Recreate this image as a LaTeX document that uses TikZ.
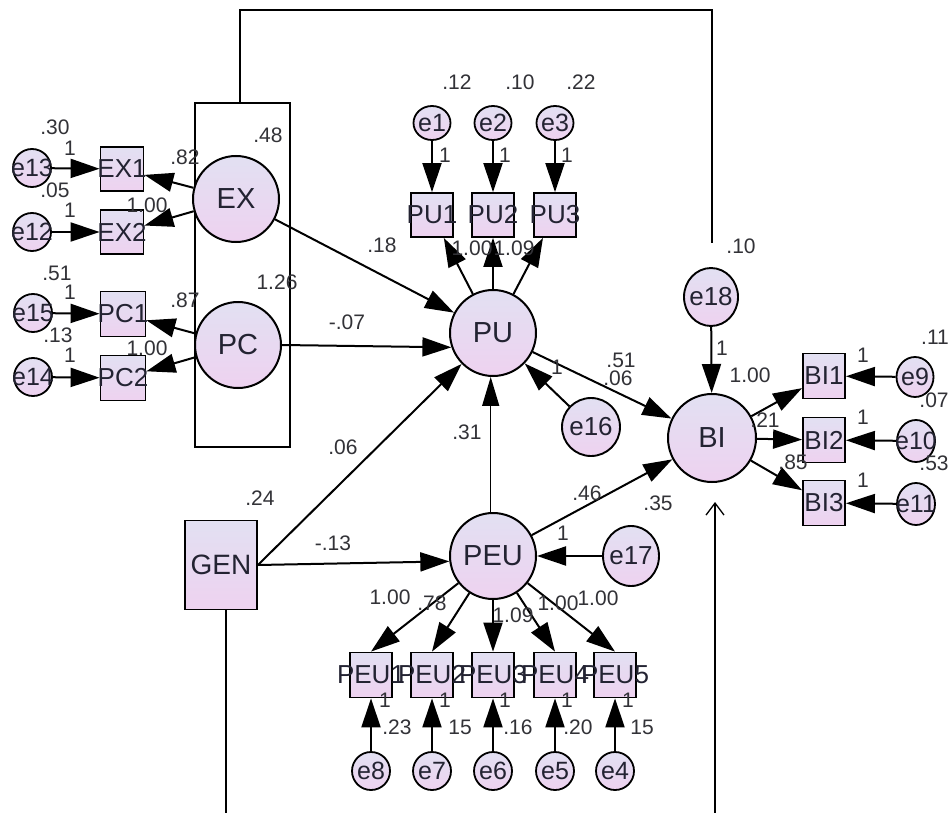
\documentclass[tikz,border=0pt]{standalone}
\usepackage{fontspec}
\setmainfont{Liberation Sans}
\usetikzlibrary{arrows.meta,shapes.geometric}
\definecolor{ncolA}{RGB}{226,224,242}
\definecolor{ncolB}{RGB}{238,210,240}
\definecolor{txt}{RGB}{35,35,50}
\definecolor{lbl}{RGB}{50,50,55}
\newcommand\zw[1]{\makebox[0pt]{#1}}
\tikzset{
  shade/.style={top color=ncolA, bottom color=ncolB, draw=black, text=txt, inner sep=0pt},
  lat/.style={shade, circle, line width=2pt, minimum size=86pt, font=\fontsize{29}{29}\selectfont},
  err/.style={shade, ellipse, line width=1.8pt, minimum width=38pt, minimum height=38pt, font=\fontsize{25}{25}\selectfont},
  errbig/.style={shade, ellipse, line width=1.9pt, minimum width=56pt, minimum height=60pt, font=\fontsize{26}{26}\selectfont},
  obs/.style={shade, rectangle, line width=1.8pt, minimum width=43pt, minimum height=44pt, font=\fontsize{26}{26}\selectfont},
  lab/.style={font=\fontsize{21}{21}\selectfont, text=lbl, inner sep=0pt},
  arr/.style={line width=2pt, -{Triangle[length=29pt,width=19pt]}},
  thinarr/.style={line width=1.3pt, -{Triangle[length=29pt,width=17pt]}},
  plain/.style={line width=1.4pt},
}
\begin{document}
\begin{tikzpicture}[x=1pt,y=-1pt]
\useasboundingbox[fill=white] (0,0) rectangle (950,813);

% frame box and top link
\draw[plain] (195,103) rectangle (290,447);
\coordinate (boxtop) at (240,103);
\coordinate (topend) at (712,243);
\draw[plain] (boxtop) |- (712,10) -- (topend);

% latent variables
\node[lat] (EX) at (236,199) {\zw{EX}};
\node[lat] (PC) at (238,345) {\zw{PC}};
\node[lat] (PU) at (493,333) {\zw{PU}};
\node[lat] (PEU) at (493,556) {\zw{PEU}};
\node[lat, minimum size=88pt] (BI) at (712,438) {\zw{BI}};

% GEN
\node[obs, minimum width=72pt, minimum height=89pt, font=\fontsize{28}{28}\selectfont] (GEN) at (221,565) {\zw{GEN}};

% EX / PC indicators
\node[obs] (EX1) at (122,169) {\zw{EX1}};
\node[obs] (EX2) at (122,232) {\zw{EX2}};
\node[obs, minimum width=45pt, minimum height=45pt] (PC1) at (123,314) {\zw{PC1}};
\node[obs, minimum width=45pt, minimum height=45pt] (PC2) at (123,378) {\zw{PC2}};
\node[err] (e13) at (32,168) {\zw{e13}};
\node[err] (e12) at (32,232) {\zw{e12}};
\node[err] (e15) at (33,313) {\zw{e15}};
\node[err] (e14) at (33,377) {\zw{e14}};

% PU indicators
\node[obs, minimum width=42pt] (PU1) at (432,215) {\zw{PU1}};
\node[obs, minimum width=42pt] (PU2) at (493,215) {\zw{PU2}};
\node[obs, minimum width=42pt] (PU3) at (555,215) {\zw{PU3}};
\node[err, minimum width=37pt, minimum height=34pt] (e1) at (432,123) {\zw{e1}};
\node[err, minimum width=37pt, minimum height=34pt] (e2) at (493,123) {\zw{e2}};
\node[err, minimum width=37pt, minimum height=34pt] (e3) at (555,123) {\zw{e3}};

% BI indicators
\node[obs, minimum width=42pt, minimum height=45pt] (BI1) at (824,376) {\zw{BI1}};
\node[obs, minimum width=42pt, minimum height=45pt] (BI2) at (824,440) {\zw{BI2}};
\node[obs, minimum width=42pt, minimum height=45pt] (BI3) at (824,503) {\zw{BI3}};
\node[err, minimum width=37pt, minimum height=40pt] (e9) at (915,377) {\zw{e9}};
\node[err, minimum width=38pt, minimum height=42pt] (e10) at (916,441) {\zw{e10}};
\node[err, minimum width=38pt, minimum height=42pt] (e11) at (916,504) {\zw{e11}};

% PEU indicators
\foreach \n/\x/\e in {1/371/8,2/432/7,3/493/6,4/555/5,5/615/4}{
  \node[obs, minimum width=42pt, minimum height=45pt] (PEU\n) at (\x,675) {\zw{PEU\n}};
  \node[err] (e\e) at (\x,771) {\zw{e\e}};
}

% structural errors
\node[errbig, minimum width=58pt, minimum height=58pt] (e16) at (591,427) {\zw{e16}};
\node[errbig] (e17) at (631,556) {\zw{e17}};
\node[errbig, minimum width=54pt, minimum height=58pt] (e18) at (711,297) {\zw{e18}};

% measurement arrows
\draw[arr] (e13) -- (EX1);
\draw[arr] (e12) -- (EX2);
\draw[arr] (e15) -- (PC1);
\draw[arr] (e14) -- (PC2);
\draw[arr] (EX) -- (EX1);
\draw[arr] (EX) -- (EX2);
\draw[arr] (PC) -- (PC1);
\draw[arr] (PC) -- (PC2);
\draw[arr] (e1) -- (PU1);
\draw[arr] (e2) -- (PU2);
\draw[arr] (e3) -- (PU3);
\draw[arr] (PU) -- (PU1);
\draw[arr] (PU) -- (PU2);
\draw[arr] (PU) -- (PU3);
\draw[arr] (BI) -- (BI1);
\draw[arr] (BI) -- (BI2);
\draw[arr] (BI) -- (BI3);
\draw[arr] (e9) -- (BI1);
\draw[arr] (e10) -- (BI2);
\draw[arr] (e11) -- (BI3);
\foreach \n/\e in {1/8,2/7,3/6,4/5,5/4}{
  \draw[arr] (PEU) -- (PEU\n.north);
  \draw[arr] (e\e) -- (PEU\n);
}

% structural arrows
\draw[arr] (EX) -- (PU);
\draw[arr] (PC.east) -- (PU.199);
\draw[arr] (GEN.east) -- (PU);
\draw[arr] (GEN.east) -- (PEU.187);
\draw[thinarr] (PEU.93) -- (PU.267);
\draw[arr] (e16) -- (PU);
\draw[arr] (PU) -- (BI);
\draw[arr] (PEU) -- (BI);
\draw[arr] (e17) -- (PEU);
\draw[arr] (e18) -- (BI);

% bottom lines
\coordinate (genbot) at (226,813);
\draw[plain] (GEN.south -| genbot) -- (genbot);
\coordinate (bibot) at (715,813);
\coordinate (bitip) at (715,502);
\draw[line width=1.3pt, -{Straight Barb[length=12pt,width=18pt]}] (bibot) -- (bitip);

% labels
\foreach \t/\x/\y in {
 .30/55/127, 1/70/148, .82/185/157, .48/268/135,
 .05/55/190, 1/70/210, 1.00/147/205,
 .51/57/273, 1/70/292, .87/185/300, 1.26/277/282,
 .13/58/335, 1/70/355, 1.00/147/348,
 .12/457/82, .10/520/82, .22/581/82,
 1/445/155, 1/505/155, 1/567/155,
 .18/382/245, 1.00/472/248, 1.09/514/248,
 -.07/347/322, .06/343/447, .31/467/432,
 1/557/367, .51/621/360, .06/618/378,
 .10/741/246, 1/722/348, 1.00/750/375, .21/765/420, .85/793/462,
 1/863/355, 1/863/417, 1/863/480,
 .11/935/337, .07/934/400, .53/934/463,
 .46/587/493, .35/658/503, 1/563/533,
 .24/260/498, -.13/333/543,
 1.00/390/597, .78/432/603, 1.09/513/615, 1.00/558/603, 1.00/598/598,
 1/385/700, 1/445/700, 1/505/700, 1/567/700, 1/628/700,
 .23/397/727, 15/460/727, .16/518/727, .20/578/727, 15/642/727}{
  \node[lab] at (\x,\y) {\t};
}
\end{tikzpicture}
\end{document}
